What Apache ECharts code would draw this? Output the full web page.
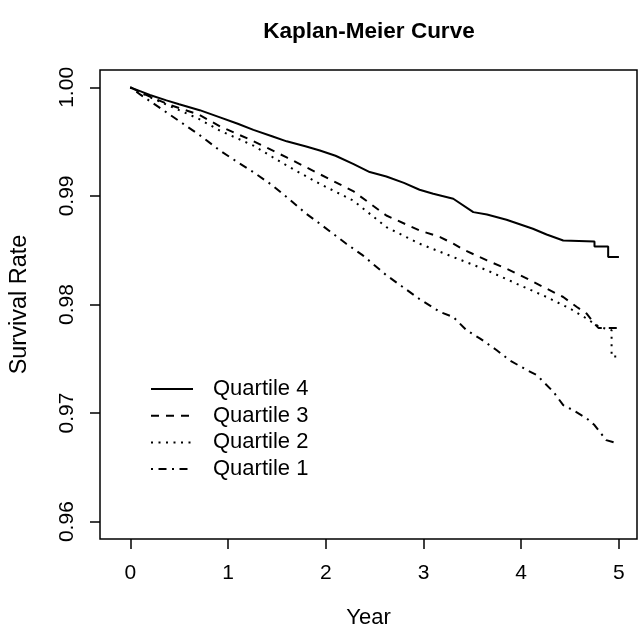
<!DOCTYPE html>
<html>
<head>
<meta charset="utf-8">
<script src="https://cdn.jsdelivr.net/npm/echarts@6/dist/echarts.min.js"></script>
<style>
html,body{margin:0;padding:0;background:#fff;}
#chart{width:638px;height:625px;}
</style>
</head>
<body>
<div id="chart"></div>
<script>
const xTicks = [0, 1, 2, 3, 4, 5];
const yTicks = [0.96, 0.97, 0.98, 0.99, 1.00];

const q4Time = [0, 0.1, 0.2, 0.37, 0.5, 0.71, 0.918, 1.1, 1.26, 1.45, 1.6, 1.8, 1.94, 2.1, 2.28, 2.45, 2.62, 2.8, 2.96, 3.1, 3.305, 3.51, 3.65, 3.85, 4.12, 4.26, 4.43, 4.75, 4.75, 4.89, 4.89, 5.0];
const q4Surv = [1, 0.99965, 0.9993, 0.9988, 0.99845, 0.9979, 0.99724, 0.99665, 0.99608, 0.9955, 0.99503, 0.99455, 0.99418, 0.9937, 0.99296, 0.9922, 0.99179, 0.9912, 0.99057, 0.9902, 0.98974, 0.98851, 0.98829, 0.9878, 0.98698, 0.98645, 0.9859, 0.98581, 0.98535, 0.98535, 0.98437, 0.98437];

const q3Time = [0, 0.2, 0.4, 0.7, 0.92, 1.26, 1.6, 1.94, 2.28, 2.62, 2.96, 3.17, 3.305, 3.41, 3.65, 3.85, 4.06, 4.26, 4.43, 4.57, 4.67, 4.75, 4.79, 5.0];
const q3Surv = [1, 0.99915, 0.9984, 0.9975, 0.9964, 0.99505, 0.99355, 0.992, 0.99045, 0.9882, 0.98682, 0.98621, 0.9856, 0.98505, 0.98406, 0.9833, 0.98238, 0.98146, 0.98069, 0.97977, 0.97916, 0.97824, 0.97784, 0.97784];

const q2Time = [0, 0.2, 0.4, 0.7, 0.92, 1.26, 1.6, 1.94, 2.28, 2.62, 2.96, 3.305, 3.65, 3.99, 4.26, 4.5, 4.67, 4.8, 4.925, 4.925, 5.0];
const q2Surv = [1, 0.9991, 0.9983, 0.9971, 0.996, 0.99464, 0.9928, 0.99111, 0.98958, 0.98713, 0.9856, 0.98437, 0.98315, 0.98176, 0.98069, 0.97962, 0.9787, 0.97793, 0.97762, 0.9752, 0.9752];

const q1Time = [0, 0.1, 0.37, 0.71, 0.918, 1.1, 1.26, 1.45, 1.6, 1.8, 1.94, 2.21, 2.38, 2.62, 2.96, 3.17, 3.305, 3.44, 3.58, 3.75, 3.88, 4.06, 4.16, 4.33, 4.43, 4.53, 4.67, 4.75, 4.87, 4.98];
const q1Surv = [1, 0.99935, 0.9977, 0.9956, 0.99418, 0.9931, 0.99219, 0.991, 0.9899, 0.98836, 0.98744, 0.9856, 0.98452, 0.9827, 0.9805, 0.97931, 0.97885, 0.97763, 0.97686, 0.97579, 0.97487, 0.97395, 0.97349, 0.97195, 0.97073, 0.97027, 0.96951, 0.96889, 0.96751, 0.96721];

const seriesNames = ['Quartile 4', 'Quartile 3', 'Quartile 2', 'Quartile 1'];

function pairs(t, s) { return t.map((v, i) => [v, s[i]]); }

const FONT = 'Liberation Sans, Arial, sans-serif';
const chart = echarts.init(document.getElementById('chart'), null, {renderer: 'canvas'});

const dashes = ['solid', [8, 7], [2, 5.5], [2, 5.5, 8, 5.5]];
const datas = [pairs(q4Time, q4Surv), pairs(q3Time, q3Surv), pairs(q2Time, q2Surv), pairs(q1Time, q1Surv)];

chart.setOption({
  animation: false,
  backgroundColor: '#fff',
  title: {
    text: 'Kaplan-Meier Curve',
    left: 364, top: 15, textAlign: 'center',
    textStyle: {fontFamily: FONT, fontWeight: 'bold', fontSize: 22.5, color: '#000'}
  },
  grid: {left: 100, right: 1, top: 70, bottom: 86, show: true, borderColor: '#000', borderWidth: 1.5,
    backgroundColor: 'transparent', containLabel: false, outerBoundsMode: 'none'},
  legend: {
    orient: 'vertical', left: 145, top: 373,
    itemWidth: 42, itemHeight: 14, itemGap: 4.7,
    itemStyle: {opacity: 0},
    data: seriesNames,
    textStyle: {fontFamily: FONT, fontSize: 22, color: '#000', lineHeight: 22, padding: [0, 0, 0, 15]}
  },
  xAxis: {
    type: 'value', min: -0.31, max: 5.185,
    name: 'Year', nameLocation: 'middle', nameGap: 68,
    nameTextStyle: {fontFamily: FONT, fontSize: 22, color: '#000'},
    axisLine: {show: false, onZero: false},
    axisTick: {show: true, customValues: xTicks, length: 10, lineStyle: {color: '#000', width: 1.5}},
    axisLabel: {customValues: xTicks, fontFamily: FONT, fontSize: 21, color: '#000', margin: 24},
    splitLine: {show: false}
  },
  yAxis: {
    type: 'value', min: 0.9584, max: 1.0016,
    name: 'Survival Rate', nameLocation: 'middle', nameGap: 68,
    nameTextStyle: {fontFamily: FONT, fontSize: 23.5, color: '#000'},
    axisLine: {show: false, onZero: false},
    axisTick: {show: true, customValues: yTicks, length: 10, lineStyle: {color: '#000', width: 1.5}},
    axisLabel: {customValues: yTicks, rotate: 90, fontFamily: FONT, fontSize: 21, color: '#000', margin: 22,
      formatter: v => v.toFixed(2)},
    splitLine: {show: false}
  },
  series: seriesNames.map((n, i) => ({
    name: n, type: 'line', symbol: 'none', data: datas[i],
    lineStyle: {color: '#000', width: 2, type: dashes[i]},
    itemStyle: {color: '#000'}
  }))
});
</script>
</body>
</html>
